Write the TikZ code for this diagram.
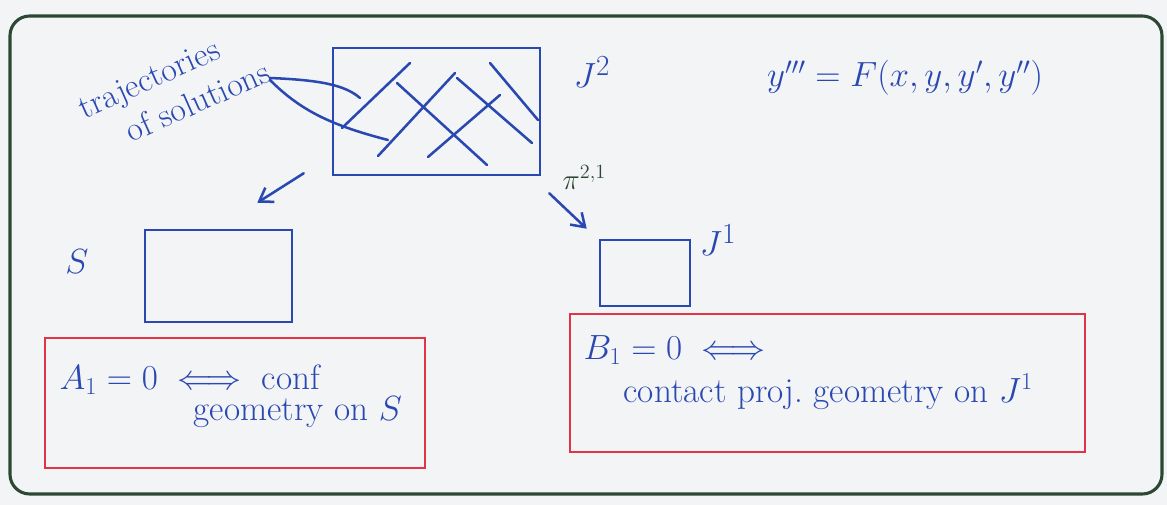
\documentclass[tikz,border=0pt]{standalone}
\usepackage{amsmath,amssymb}
\usetikzlibrary{arrows.meta,calc,fit,positioning}
\definecolor{ink}{RGB}{42,72,178}
\definecolor{redink}{RGB}{226,52,72}
\definecolor{greenink}{RGB}{44,72,52}
\definecolor{paper}{RGB}{243,244,246}
\tikzset{
  pen/.style={ink,line width=1.8pt,line cap=round},
  sheet/.style={draw=ink,line width=1.8pt,inner sep=0pt},
  redbox/.style={draw=redink,line width=1.6pt,inner sep=0pt},
  hand/.style={ink,font=\fontsize{25}{30}\selectfont,inner sep=1pt},
  arr/.style={pen,-{Straight Barb[length=9pt,width=12pt]}},
}
\begin{document}
\begin{tikzpicture}[x=0.025cm,y=-0.025cm]
\useasboundingbox (0,0) rectangle (1167,505);
\fill[paper] (0,0) rectangle (1167,505);
% ---- outer frame ----
\draw[greenink,line width=2.2pt,rounded corners=14] (10,16) rectangle (1162,494);
% ---- J^2 with the solution curves ----
\node[sheet,fit={(333,48) (540,175)}] (J2) {};
\draw[pen] (410,63)--(342,128);
\draw[pen] (397,83)--(487,165);
\draw[pen] (455,73)--(378,156);
\draw[pen] (457,78)--(532,143);
\draw[pen] (500,95)--(428,157);
\draw[pen] (490,63)--(538,120);
\node[hand,font=\fontsize{30}{34}\selectfont] (J2lbl) at (592,72) {$J^2$};
\node[hand] (ode) at (905,78) {$y'''=F(x,y,y',y'')$};
% ---- label pointing into J^2 ----
\node[hand,font=\fontsize{24}{24}\selectfont,rotate=24,align=left] (traj) at (174,90) {trajectories\\[5pt]\hspace*{24pt}of solutions};
\coordinate (t1) at (360,98);
\coordinate (t2) at (388,140);
\draw[pen] (270,78) .. controls (320,80) and (345,85) .. (t1);
\draw[pen] (270,80) .. controls (300,110) and (330,125) .. (t2);
% ---- projections ----
\node[sheet,fit={(145,230) (292,322)}] (S) {};
\node[hand,font=\fontsize{28}{32}\selectfont] (Slbl) at (77,262) {$S$};
\node[sheet,fit={(600,240) (690,306)}] (J1) {};
\node[hand,font=\fontsize{28}{32}\selectfont] (J1lbl) at (718,240) {$J^1$};
\draw[arr] ($(J2.south west)+(-28,-3)$) -- ($(S.north east)+(-36,-26)$);
\draw[arr] ($(J2.south east)+(8,17)$) -- ($(J1.north west)+(-12,-10)$)
  node[pos=0.05,above right=0pt and 4pt,greenink,font=\fontsize{22}{26}\selectfont] (pi) {$\pi^{2,1}$};
% ---- conditions ----
\node[redbox,fit={(45,338) (425,468)}] (Abox) {};
\node[hand,anchor=west] (A1) at (58,380) {$A_1=0\iff$ conf};
\node[hand,anchor=west] (A2) at (192,412) {geometry on $S$};
\node[redbox,fit={(570,314) (1085,452)}] (Bbox) {};
\node[hand,anchor=west] (B1) at (582,350) {$B_1=0\iff$};
\node[hand,anchor=west] (B2) at (622,392) {contact proj.\ geometry on $J^1$};
\end{tikzpicture}
\end{document}
